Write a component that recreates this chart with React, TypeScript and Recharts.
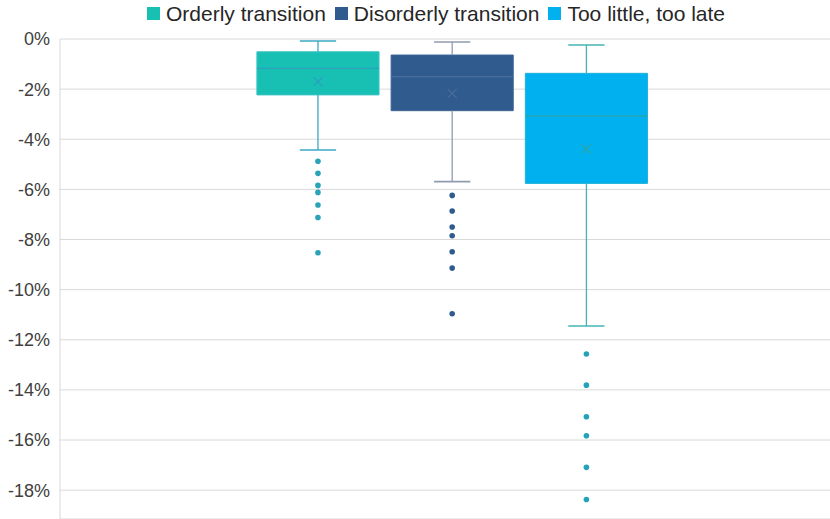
import React from "react";
import {
  ScatterChart,
  Scatter,
  XAxis,
  YAxis,
  CartesianGrid,
  ReferenceArea,
  ReferenceLine,
} from "recharts";

// one entry per scenario
const scenarios = ["Orderly transition", "Disorderly transition", "Too little, too late"];
const whiskerMax = [-0.08, -0.12, -0.24];
const q3 = [-0.51, -0.64, -1.37];
const median = [-1.17, -1.5, -3.07];
const q1 = [-2.23, -2.86, -5.76];
const whiskerMin = [-4.43, -5.69, -11.45];
const mean = [-1.7, -2.17, -4.39];
const outliers = [
  [-4.88, -5.36, -5.84, -6.12, -6.62, -7.12, -8.53],
  [-6.24, -6.86, -7.5, -7.85, -8.49, -9.14, -10.96],
  [-12.57, -13.81, -15.07, -15.83, -17.09, -18.37],
];
const yTicks = [0, -2, -4, -6, -8, -10, -12, -14, -16, -18];

const FILLS = ["#17c0b2", "#2f5b8e", "#00b0ef"];
const BORDERS = ["#3cc3c6", "#3c6596", "#1fb3d8"];
const WHISKERS = ["#3aa9c4", "#8f9bb0", "#45b4b4"];
const MEDIANS = ["#2c9fbf", "#4a6d9b", "#2aa6a9"];
const DOTS = ["#2aa2b8", "#2f5b8e", "#22a3b9"];

const W = 830;
const H = 519;
const BOX_HALF = 0.455;
const CAP_HALF = 0.135;
const FONT = "'Liberation Sans', Arial, sans-serif";

const outlierData = outliers.map((arr, i) => arr.map((y) => ({ x: i, y })));
const meanData = mean.map((y, i) => ({ x: i, y }));

function ChartLegend() {
  return (
    <div
      style={{
        position: "absolute",
        top: 0,
        left: 0,
        width: 872,
        height: 27,
        display: "flex",
        justifyContent: "center",
        alignItems: "center",
        fontFamily: FONT,
        fontSize: 21,
        color: "#262626",
        whiteSpace: "nowrap",
      }}
    >
      {scenarios.map((name, i) => (
        <span key={name} style={{ display: "flex", alignItems: "center", marginRight: i < 2 ? 9 : 0 }}>
          <span style={{ width: 13, height: 13, background: FILLS[i], marginRight: 6, display: "inline-block" }} />
          {name}
        </span>
      ))}
    </div>
  );
}

const MeanCross = (props: any) => {
  const { cx, cy, index } = props;
  const s = 4.5;
  const c = MEDIANS[index] ?? "#2aa6a9";
  return (
    <g stroke={c} strokeWidth={1.3}>
      <line x1={cx - s} y1={cy - s} x2={cx + s} y2={cy + s} />
      <line x1={cx - s} y1={cy + s} x2={cx + s} y2={cy - s} />
    </g>
  );
};

export default function App() {
  return (
    <div style={{ position: "absolute", left: 0, top: 0, width: W, height: H, background: "#fff", overflow: "hidden" }}>
      <ChartLegend />
      <ScatterChart width={W} height={H} margin={{ top: 39, right: 0, bottom: 0, left: 0 }}>
        <CartesianGrid vertical={false} stroke="#d9d9d9" />
        <XAxis type="number" dataKey="x" domain={[-1.922, 3.815]} hide allowDataOverflow />
        <YAxis
          type="number"
          dataKey="y"
          domain={[-19.15, 0]}
          ticks={yTicks}
          allowDataOverflow
          width={60}
          tickLine={false}
          tickMargin={4}
          axisLine={{ stroke: "#d9d9d9" }}
          tick={{ fill: "#404040", fontSize: 18, fontFamily: FONT }}
          tickFormatter={(v) => `${v}%`}
        />
        {scenarios.map((name, i) => (
          <ReferenceLine
            key={name + "-up"}
            segment={[
              { x: i, y: q3[i] },
              { x: i, y: whiskerMax[i] },
            ]}
            stroke={WHISKERS[i]}
            strokeWidth={1.3}
          />
        ))}
        {scenarios.map((name, i) => (
          <ReferenceLine
            key={name + "-down"}
            segment={[
              { x: i, y: q1[i] },
              { x: i, y: whiskerMin[i] },
            ]}
            stroke={WHISKERS[i]}
            strokeWidth={1.3}
          />
        ))}
        {scenarios.map((name, i) => (
          <ReferenceLine
            key={name + "-capTop"}
            segment={[
              { x: i - CAP_HALF, y: whiskerMax[i] },
              { x: i + CAP_HALF, y: whiskerMax[i] },
            ]}
            stroke={WHISKERS[i]}
            strokeWidth={1.6}
          />
        ))}
        {scenarios.map((name, i) => (
          <ReferenceLine
            key={name + "-capBottom"}
            segment={[
              { x: i - CAP_HALF, y: whiskerMin[i] },
              { x: i + CAP_HALF, y: whiskerMin[i] },
            ]}
            stroke={WHISKERS[i]}
            strokeWidth={1.6}
          />
        ))}
        {scenarios.map((name, i) => (
          <ReferenceArea
            key={name + "-box"}
            x1={i - BOX_HALF}
            x2={i + BOX_HALF}
            y1={q1[i]}
            y2={q3[i]}
            fill={FILLS[i]}
            fillOpacity={1}
            stroke={BORDERS[i]}
            strokeWidth={1}
          />
        ))}
        {scenarios.map((name, i) => (
          <ReferenceLine
            key={name + "-median"}
            segment={[
              { x: i - BOX_HALF, y: median[i] },
              { x: i + BOX_HALF, y: median[i] },
            ]}
            stroke={MEDIANS[i]}
            strokeWidth={1.3}
          />
        ))}
        <Scatter data={meanData} shape={MeanCross} isAnimationActive={false} />
        {outlierData.map((pts, i) => (
          <Scatter
            key={scenarios[i] + "-out"}
            data={pts}
            isAnimationActive={false}
            shape={(p: any) => <circle cx={p.cx} cy={p.cy} r={2.8} fill={DOTS[i]} />}
          />
        ))}
      </ScatterChart>
    </div>
  );
}
